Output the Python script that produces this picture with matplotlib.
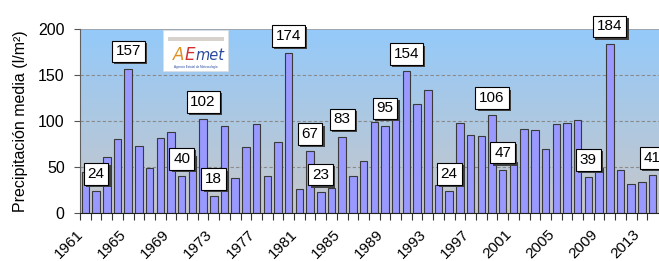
import numpy as np
import matplotlib
matplotlib.use("Agg")
import matplotlib.pyplot as plt
import matplotlib.patheffects as pe
from matplotlib.patches import Rectangle
from matplotlib.transforms import ScaledTranslation

# precipitacion media anual (l/m2)
years = list(range(1961, 2015))
precip = [45, 24, 61, 80, 157, 73, 49, 82, 88, 40,
          62, 102, 18, 95, 38, 72, 97, 40, 77, 174,
          26, 67, 23, 27, 83, 40, 57, 99, 95, 113,
          154, 118, 134, 30, 24, 98, 85, 84, 106, 47,
          55, 91, 90, 70, 97, 98, 101, 39, 49, 184,
          47, 31, 34, 41]
labeled_years = [1962, 1965, 1970, 1972, 1973, 1980, 1982, 1983, 1985,
                 1989, 1991, 1995, 1999, 2000, 2008, 2010, 2014]
yticks = [0, 50, 100, 150, 200]
xtick_years = list(range(1961, 2015, 4))

plt.rcParams['font.family'] = ['Liberation Sans', 'DejaVu Sans']

fig = plt.figure(figsize=(6.59, 2.61), dpi=100)
ax = fig.add_axes([80 / 659, 48 / 261, 579 / 659, 184 / 261])

x = np.arange(len(years))

# gradient background (blue top -> grey bottom)
top = np.array([0.58, 0.79, 0.98])
bottom = np.array([0.78, 0.78, 0.79])
t = np.linspace(0, 1, 256)[:, None]
grad = (top * (1 - t) + bottom * t)[:, None, :]
ax.imshow(grad, extent=[0, 1, 0, 1], transform=ax.transAxes, aspect='auto', zorder=0)

for v in yticks[1:-1]:
    ax.axhline(v, color='#8a8a8a', lw=0.8, ls=(0, (3, 2)), zorder=1)
ax.axhline(200, color='#a0a0a0', lw=1.2, zorder=1)

ax.bar(x, precip, width=0.7, color='#9999ff', edgecolor='#3a3a3a', linewidth=0.8, zorder=2)

# value boxes with shadow
shadow = [pe.SimplePatchShadow(offset=(1.6, -1.6), shadow_rgbFace='#404040', alpha=1.0), pe.Normal()]
for yr in labeled_years:
    i = years.index(yr)
    v = precip[i]
    t = ax.annotate(str(v), xy=(i, v), xytext=(0, 12.4), textcoords='offset points',
                    ha='center', va='center', fontsize=11, color='black', zorder=5,
                    annotation_clip=False,
                    bbox=dict(boxstyle='square,pad=0.25', fc='white', ec='black', lw=0.8))
    t.get_bbox_patch().set_path_effects(shadow)

# logo
ax.add_patch(Rectangle((0.144, 0.77), 0.112, 0.222, transform=ax.transAxes,
                       fc='white', ec='#dddddd', lw=0.5, zorder=3))
ax.add_patch(Rectangle((0.152, 0.935), 0.097, 0.022, transform=ax.transAxes,
                       fc='#d8d2cc', ec='none', zorder=3))
ax.text(0.160, 0.86, 'A', transform=ax.transAxes, color='#e09020', fontsize=12,
        style='italic', ha='left', va='center', zorder=4, family='DejaVu Sans')
ax.text(0.180, 0.86, 'E', transform=ax.transAxes, color='#d03030', fontsize=12,
        style='italic', ha='left', va='center', zorder=4, family='DejaVu Sans')
ax.text(0.199, 0.855, 'met', transform=ax.transAxes, color='#2a4aa0', fontsize=10.5,
        style='italic', ha='left', va='center', zorder=4, family='DejaVu Sans')
ax.text(0.2, 0.795, 'Agencia Estatal de Meteorología', transform=ax.transAxes,
        color='#2a4aa0', fontsize=2.2, ha='center', va='center', zorder=4)

ax.set_xlim(-0.5, 53.6)
ax.set_ylim(0, 200)
ax.set_yticks(yticks)
ax.set_xticks([years.index(y) for y in xtick_years])
ax.set_xticklabels([str(y) for y in xtick_years])
ax.set_xticks(np.arange(len(years)) - 0.5, minor=True)

ax.tick_params(axis='y', length=4, width=0.8, color='#555555', pad=7, labelsize=11.5)
ax.tick_params(axis='x', which='major', length=0, pad=14, labelsize=11)
ax.tick_params(axis='x', which='minor', length=5, width=0.8, color='#333333')
shift = ScaledTranslation(-4 / 100, 0, fig.dpi_scale_trans)
for lab in ax.get_xticklabels():
    lab.set_rotation(45)
    lab.set_ha('right')
    lab.set_va('center')
    lab.set_rotation_mode('anchor')
    lab.set_transform(lab.get_transform() + shift)

for s in ['top', 'right']:
    ax.spines[s].set_visible(False)
ax.spines['left'].set_color('#606060')
ax.spines['bottom'].set_color('#222222')
ax.spines['left'].set_zorder(3)
ax.spines['bottom'].set_zorder(3)

ax.set_ylabel('Precipitación media (l/m²)', fontsize=11.5, labelpad=7)

fig.savefig('out.png', dpi=100)
